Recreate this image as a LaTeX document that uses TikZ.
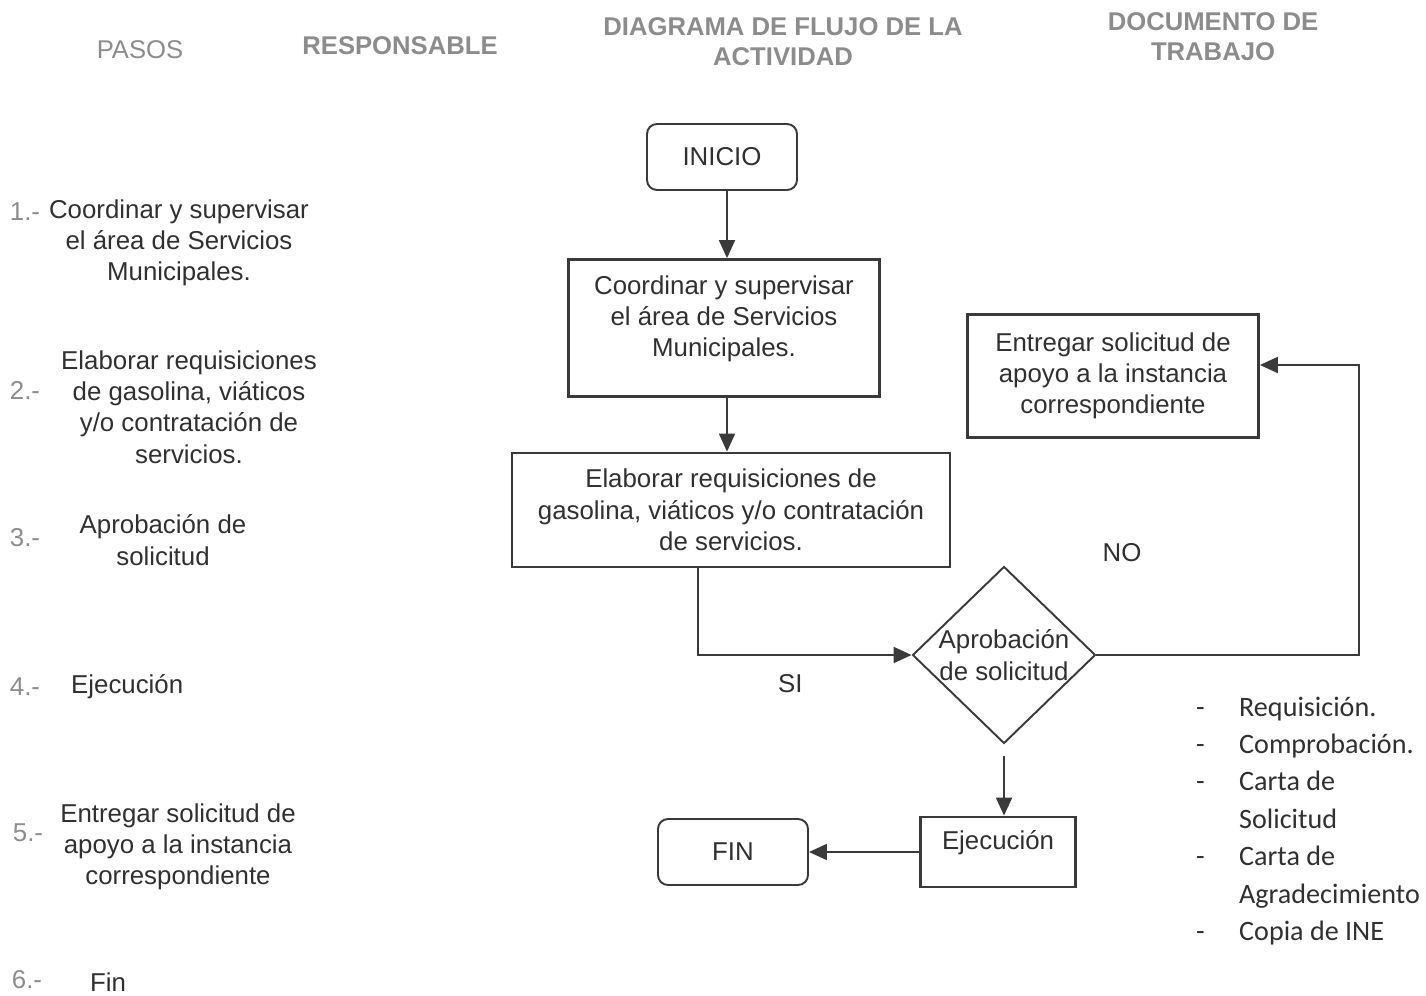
\documentclass[tikz,border=0pt]{standalone}
\usepackage{fontspec}
\setmainfont{Liberation Sans}
\newfontfamily\carlito{Carlito}
\usetikzlibrary{arrows.meta,shapes.geometric}
\definecolor{linegray}{HTML}{3A3A3A}
\definecolor{inkgray}{HTML}{303030}
\definecolor{headgray}{HTML}{8C8C8C}
\newcommand\flowfont{\fontsize{14.7}{17.8}\selectfont}
\newcommand\headfont{\fontsize{14.6}{17}\selectfont}
\tikzset{
  box/.style={rectangle, draw=linegray, line width=1.6pt, align=center, font=\flowfont, text=inkgray, inner sep=2pt},
  endbox/.style={rectangle, rounded corners=2mm, draw=linegray, line width=1.1pt, minimum width=3cm, minimum height=1.32cm, font=\flowfont, text=inkgray},
  decision/.style={diamond, draw=linegray, line width=1.1pt, minimum width=3.66cm, minimum height=3.54cm, inner sep=0pt},
  conn/.style={-{Triangle[length=3.6mm,width=3.2mm]}, line width=1.1pt, draw=linegray},
  head/.style={font=\headfont, text=headgray, align=center},
  steptxt/.style={font=\flowfont, text=inkgray, align=center},
  stepnum/.style={font=\flowfont, text=headgray},
  tag/.style={font=\flowfont, text=inkgray},
  doclist/.style={font=\carlito\fontsize{16}{21.3}\selectfont, text=inkgray, align=left},
}
\begin{document}
\begin{tikzpicture}[x=0.02cm, y=-0.02cm]
  \useasboundingbox (0,0) rectangle (1426,996);

  % encabezados
  \node[head] (hpasos) at (140,50) {PASOS};
  \node[head, font=\headfont\bfseries] (hresp) at (400,46) {RESPONSABLE};
  \node[head, font=\headfont\bfseries] (hflujo) at (783,42) {DIAGRAMA DE FLUJO DE LA\\ACTIVIDAD};
  \node[head, font=\headfont\bfseries] (hdoc) at (1213,37) {DOCUMENTO DE\\TRABAJO};

  % pasos
  \node[stepnum] (num1) at (25,212) {1.-};
  \node[steptxt] (paso1) at (179,243) {Coordinar y supervisar\\el área de Servicios\\Municipales.};
  \node[stepnum] (num2) at (25,390) {2.-};
  \node[steptxt] (paso2) at (189,407) {Elaborar requisiciones\\de gasolina, viáticos\\y/o contratación de\\servicios.};
  \node[stepnum] (num3) at (25,538) {3.-};
  \node[steptxt] (paso3) at (163,540) {Aprobación de\\solicitud};
  \node[stepnum] (num4) at (25,687) {4.-};
  \node[steptxt, anchor=west] (paso4) at (65,687) {Ejecución};
  \node[stepnum] (num5) at (28,833) {5.-};
  \node[steptxt] (paso5) at (178,847) {Entregar solicitud de\\apoyo a la instancia\\correspondiente};
  \node[stepnum] (num6) at (27,980) {6.-};
  \node[steptxt, anchor=west] (paso6) at (84,982) {Fin};

  % diagrama
  \node[endbox] (inicio) at (722,157) {INICIO};
  \node[box, minimum width=6.22cm, minimum height=2.74cm, text depth=0.47cm] (coord) at (724,328) {Coordinar y supervisar\\el área de Servicios\\Municipales.};
  \node[box, minimum width=8.76cm, minimum height=2.28cm] (elab) at (731,510) {Elaborar requisiciones de\\gasolina, viáticos y/o contratación\\de servicios.};
  \node[decision, label={[font=\flowfont, text=inkgray, align=center]center:Aprobación\\de solicitud}] (aprob) at (1004,655) {};
  \node[box, minimum width=5.82cm, minimum height=2.46cm] (entrega) at (1113,376) {Entregar solicitud de\\apoyo a la instancia\\correspondiente};
  \node[box, minimum width=3.1cm, minimum height=1.4cm, text depth=0.47cm] (ejec) at (998,852) {Ejecución};
  \node[endbox] (fin) at (733,852) {FIN};
  \coordinate (retorno) at (1359,365);

  \draw[conn] (inicio.south -| 727,0) -- (coord.north -| 727,0);
  \draw[conn] (coord.south -| 727,0) -- (elab.north -| 727,0);
  \draw[conn] (elab.south -| 698,0) |- (aprob.west) node[pos=0.716, below=0.25cm, tag] (si) {SI};
  \draw[conn] (aprob.east) -| (retorno) -- (entrega.east |- retorno);
  \node[tag] (no) at (1122,553) {NO};
  \draw[conn, shorten <=0.24cm] (aprob.south) -- (aprob.south |- ejec.north);
  \draw[conn] (ejec.west) -- (fin.east);

  % documentos
  \node[doclist, anchor=west] (docs) at (1190,821) {\makebox[0.86cm][l]{-}Requisición.\\
    \makebox[0.86cm][l]{-}Comprobación.\\
    \makebox[0.86cm][l]{-}Carta de\\
    \hspace*{0.86cm}Solicitud\\
    \makebox[0.86cm][l]{-}Carta de\\
    \hspace*{0.86cm}Agradecimiento\\
    \makebox[0.86cm][l]{-}Copia de INE};
\end{tikzpicture}
\end{document}
